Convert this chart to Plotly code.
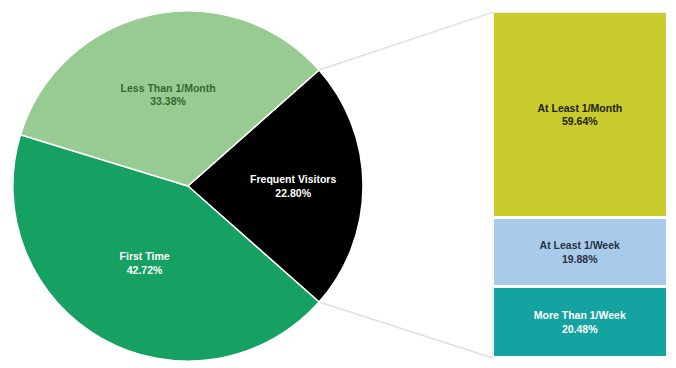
import math
import plotly.graph_objects as go

# Data
pie_labels = ["Frequent Visitors", "First Time", "Less Than 1/Month"]
pie_values = [22.80, 42.72, 33.38]
pie_colors = ["#000000", "#16a062", "#97cb91"]
pie_text_colors = ["#ffffff", "#ffffff", "#2f6a33"]

bar_labels = ["More Than 1/Week", "At Least 1/Week", "At Least 1/Month"]
bar_values = [20.48, 19.88, 59.64]
bar_colors = ["#14a3a0", "#a9cbeb", "#c9ca2b"]
bar_text_colors = ["#ffffff", "#2a3140", "#1e1e10"]

W, H = 676, 368
pie_dom_x = [0.019, 0.537]
pie_dom_y = [0.016, 0.973]
bar_dom_x = [0.729, 0.988]
bar_dom_y = [0.027, 0.967]

total = sum(pie_values)
frac = pie_values[0] / total
rotation = 90 - frac * 360 / 2

fig = go.Figure()
fig.add_trace(go.Pie(
    labels=pie_labels, values=pie_values, sort=False, direction="clockwise",
    rotation=rotation,
    marker=dict(colors=pie_colors, line=dict(color="#ffffff", width=1.5)),
    customdata=[f"{v:.2f}%" for v in pie_values],
    texttemplate="<b>%{label}</b><br><b>%{customdata}</b>",
    textposition="inside", insidetextorientation="horizontal",
    textfont=dict(family="Arial", size=10.5, color=pie_text_colors),
    domain=dict(x=pie_dom_x, y=pie_dom_y),
    showlegend=False, hoverinfo="label+percent",
))

for lab, val, col, tc in zip(bar_labels, bar_values, bar_colors, bar_text_colors):
    fig.add_trace(go.Bar(
        x=["Frequent Visitors"], y=[val], name=lab,
        marker=dict(color=col, line=dict(color="#ffffff", width=3)),
        text=[f"<b>{lab}</b><br><b>{val:.2f}%</b>"], textposition="inside",
        insidetextanchor="middle", textangle=0,
        textfont=dict(family="Arial", size=10.5, color=tc),
        showlegend=False, xaxis="x", yaxis="y",
    ))

# connector lines from black slice edges to bar corners
pw = (pie_dom_x[1] - pie_dom_x[0]) * W
ph = (pie_dom_y[1] - pie_dom_y[0]) * H
r = min(pw, ph) / 2
cx = (pie_dom_x[0] + pie_dom_x[1]) / 2 * W
cy = (pie_dom_y[0] + pie_dom_y[1]) / 2 * H
half = frac * 360 / 2
shapes = []
for sgn, ybar in [(1, bar_dom_y[1]), (-1, bar_dom_y[0])]:
    a = math.radians(sgn * half)
    px = (cx + r * math.cos(a)) / W
    py = (cy + r * math.sin(a)) / H
    shapes.append(dict(type="line", xref="paper", yref="paper",
                       x0=px, y0=py, x1=bar_dom_x[0], y1=ybar,
                       line=dict(color="#e0e0e0", width=1.5), layer="below"))

fig.update_layout(
    width=W, height=H, margin=dict(l=0, r=0, t=0, b=0),
    paper_bgcolor="#ffffff", plot_bgcolor="#ffffff",
    barmode="stack", bargap=0,
    uniformtext=dict(minsize=10, mode="show"),
    xaxis=dict(domain=bar_dom_x, visible=False),
    yaxis=dict(domain=bar_dom_y, range=[0, 100], visible=False),
    shapes=shapes,
)
fig.write_html("out.html")
